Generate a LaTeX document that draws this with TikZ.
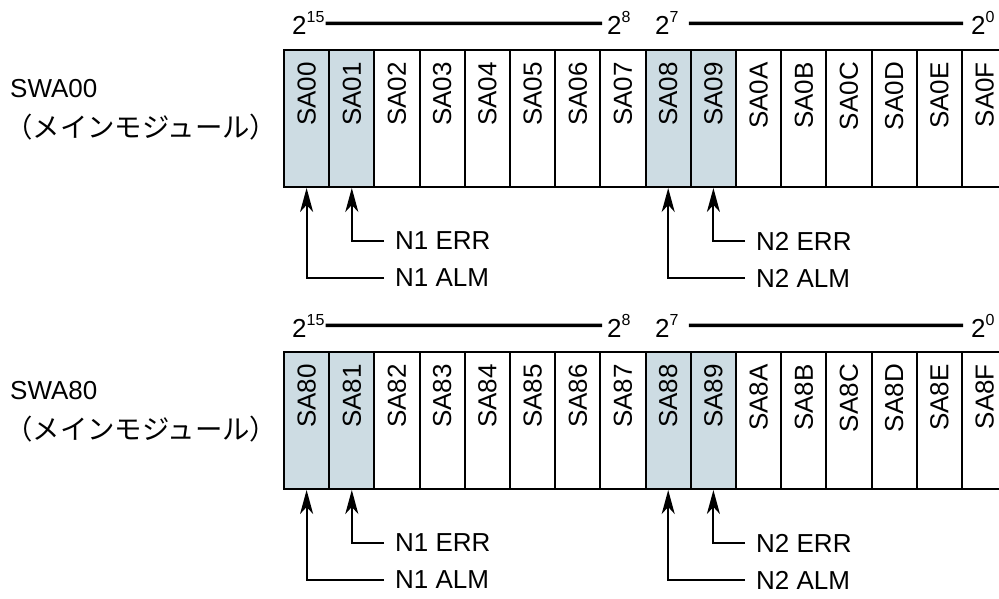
\documentclass[tikz,border=0pt]{standalone}
\usepackage{fontspec}
\setmainfont{Liberation Sans}
\newfontfamily\jpfont{Noto Sans CJK JP}
\usepackage{tikz}
\usetikzlibrary{arrows.meta, positioning}
\definecolor{zellblau}{RGB}{205,220,227}
\newcommand{\hoch}[1]{\raisebox{12pt}{\fontsize{16}{16}\selectfont #1}}

\begin{document}
\begin{tikzpicture}[x=1pt, y=-1pt,
				font=\fontsize{26}{30}\selectfont,
				bit/.style={draw, line width=2pt, minimum width=45.2pt, minimum height=137pt, inner sep=0pt},
				hl/.style={bit, fill=zellblau},
				lbl/.style={inner sep=1pt},
				pfeil/.style={-{Stealth[length=24pt, width=13pt, inset=7pt]}, line width=2pt}]
				%Bildbereich
				\clip (0,0) rectangle (999,599);
				\foreach \r/\yo/\pre in {0/0/0, 1/302/8} {
					%Registername
					\node[lbl, anchor=west] (name\r) at (9,{89+\yo}) {SWA\pre0};
					\node[lbl, anchor=west] (mod\r) at (4,{127+\yo}) {\jpfont\fontsize{27.4}{30}\selectfont （メインモジュール）};
					%Bitwertigkeit
					\node[lbl, anchor=base west] (b15-\r) at (291,{35+\yo}) {2\hoch{15}};
					\node[lbl, anchor=base west] (b8-\r) at (606,{35+\yo}) {2\hoch{8}};
					\node[lbl, anchor=base west] (b7-\r) at (654,{35+\yo}) {2\hoch{7}};
					\node[lbl, anchor=base west] (b0-\r) at (970,{35+\yo}) {2\hoch{0}};
					\draw[line width=3.5pt] (b15-\r.east) -- ([xshift=-4pt]b8-\r.west);
					\draw[line width=3.5pt] ([xshift=9pt]b7-\r.east) -- ([xshift=-7pt]b0-\r.west);
					%Zellen zeichnen
					\foreach \h/\st [count=\i from 0] in {0/hl,1/hl,2/bit,3/bit,4/bit,5/bit,6/bit,7/bit,8/hl,9/hl,A/bit,B/bit,C/bit,D/bit,E/bit,F/bit} {
						\node[\st] (z\r-\i) at ({284+45.2*(\i+0.5)},{118.5+\yo}) {};
						\node[rotate=90, anchor=east, inner sep=0pt] (t\r-\i) at ([yshift=-13pt]z\r-\i.north) {SA\pre\h};
					}
					%Pfeile
					\node[lbl, anchor=west] (err1-\r) at (394,{241+\yo}) {N1 ERR};
					\node[lbl, anchor=west] (alm1-\r) at (394,{278+\yo}) {N1 ALM};
					\node[lbl, anchor=west] (err2-\r) at (755,{241+\yo}) {N2 ERR};
					\node[lbl, anchor=west] (alm2-\r) at (755,{278+\yo}) {N2 ALM};
					\draw[pfeil] ([xshift=-10pt]err1-\r.west) -| (z\r-1.south);
					\draw[pfeil] ([xshift=-10pt]alm1-\r.west) -| (z\r-0.south);
					\draw[pfeil] ([xshift=-10pt]err2-\r.west) -| (z\r-9.south);
					\draw[pfeil] ([xshift=-10pt]alm2-\r.west) -| (z\r-8.south);
				}
\end{tikzpicture}
\end{document}
